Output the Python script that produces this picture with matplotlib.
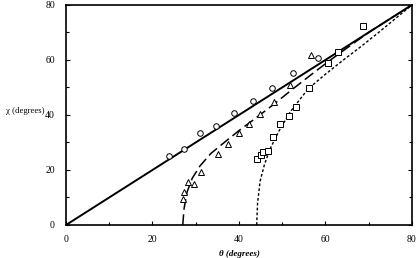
import matplotlib
matplotlib.use('Agg')
import matplotlib.pyplot as plt

# data (theta, chi in degrees)
circ_theta = [23.9, 27.4, 31.1, 34.8, 38.8, 43.2, 47.7, 52.6, 58.3]
circ_chi = [25.2, 27.6, 33.5, 35.8, 40.8, 45.0, 49.9, 55.2, 60.6]

tri_theta = [27.0, 27.2, 28.3, 29.5, 31.2, 35.2, 37.5, 40.1, 42.4, 44.8, 48.2, 51.9, 56.6, 60.5]
tri_chi = [9.3, 12.0, 15.8, 15.0, 19.2, 25.8, 29.5, 33.6, 36.8, 40.5, 44.8, 51.0, 61.9, 58.8]

sq_theta = [44.2, 45.0, 45.6, 46.7, 47.8, 49.6, 51.5, 53.3, 56.2, 60.5, 63.0, 68.7]
sq_chi = [23.9, 25.3, 26.5, 26.9, 32.1, 36.8, 39.7, 43.0, 49.7, 59.0, 63.0, 72.4]

# reference line chi = theta
line_theta = [0, 80]
line_chi = [0, 80]

# dashed curve
dash_theta = [27.0, 27.3, 28.0, 29.2, 31.0, 33.5, 37.0, 40.0, 44.0, 48.0, 52.5, 57.0, 61.0, 66.0, 70.0, 75.0, 80.0]
dash_chi = [0.0, 6.0, 12.0, 17.0, 21.5, 26.0, 30.5, 34.3, 39.0, 43.8, 49.5, 55.0, 59.8, 65.5, 70.0, 75.0, 80.0]

# dotted curve
dot_theta = [44.1, 44.3, 44.9, 45.9, 47.3, 49.2, 51.8, 56.0, 60.0, 64.0, 68.0, 72.0, 76.0, 80.0]
dot_chi = [0.0, 8.0, 16.0, 22.0, 28.0, 34.0, 41.0, 49.5, 54.8, 59.8, 64.6, 69.6, 74.8, 80.0]

plt.rcParams['font.family'] = ['Liberation Serif', 'DejaVu Serif']

fig = plt.figure(figsize=(4.16, 2.58), dpi=100)
ax = fig.add_axes([0.1587, 0.128, 0.8315, 0.853])

ax.plot(line_theta, line_chi, color='black', lw=1.4)
ax.plot(dash_theta, dash_chi, color='black', lw=1.1, dashes=(7, 3))
ax.plot(dot_theta, dot_chi, color='black', lw=1.0, dashes=(2, 1.5))

mk = dict(ls='none', mfc='white', mec='black', mew=0.7, ms=4)
ax.plot(circ_theta, circ_chi, marker='o', **mk)
ax.plot(tri_theta, tri_chi, marker='^', **mk)
ax.plot(sq_theta, sq_chi, marker='s', **mk)

ax.set_xlim(0, 80)
ax.set_ylim(0, 80)
ax.set_xticks([0, 20, 40, 60, 80])
ax.set_yticks([0, 20, 40, 60, 80])
ax.set_xticks([10, 30, 50, 70], minor=True)
ax.set_yticks([10, 30, 50, 70], minor=True)
ax.tick_params(which='both', direction='in', labelsize=7, width=0.8,
               right=True, top=False)
ax.tick_params(which='major', length=3)
ax.tick_params(which='minor', length=2)
ax.tick_params(axis='x', pad=7)
ax.tick_params(axis='y', pad=8)
for s in ax.spines.values():
    s.set_linewidth(1.2)

ax.set_ylabel('χ (degrees)', rotation=0, fontsize=6.3, labelpad=0)
ax.yaxis.set_label_coords(-0.062, 0.5, transform=ax.transAxes)
ax.yaxis.label.set_horizontalalignment('right')
fig.text(0.575, 0.0, 'θ (degrees)', fontsize=6.5, style='italic',
         fontweight='bold', ha='center', va='bottom')

fig.savefig('out.png', dpi=100)
